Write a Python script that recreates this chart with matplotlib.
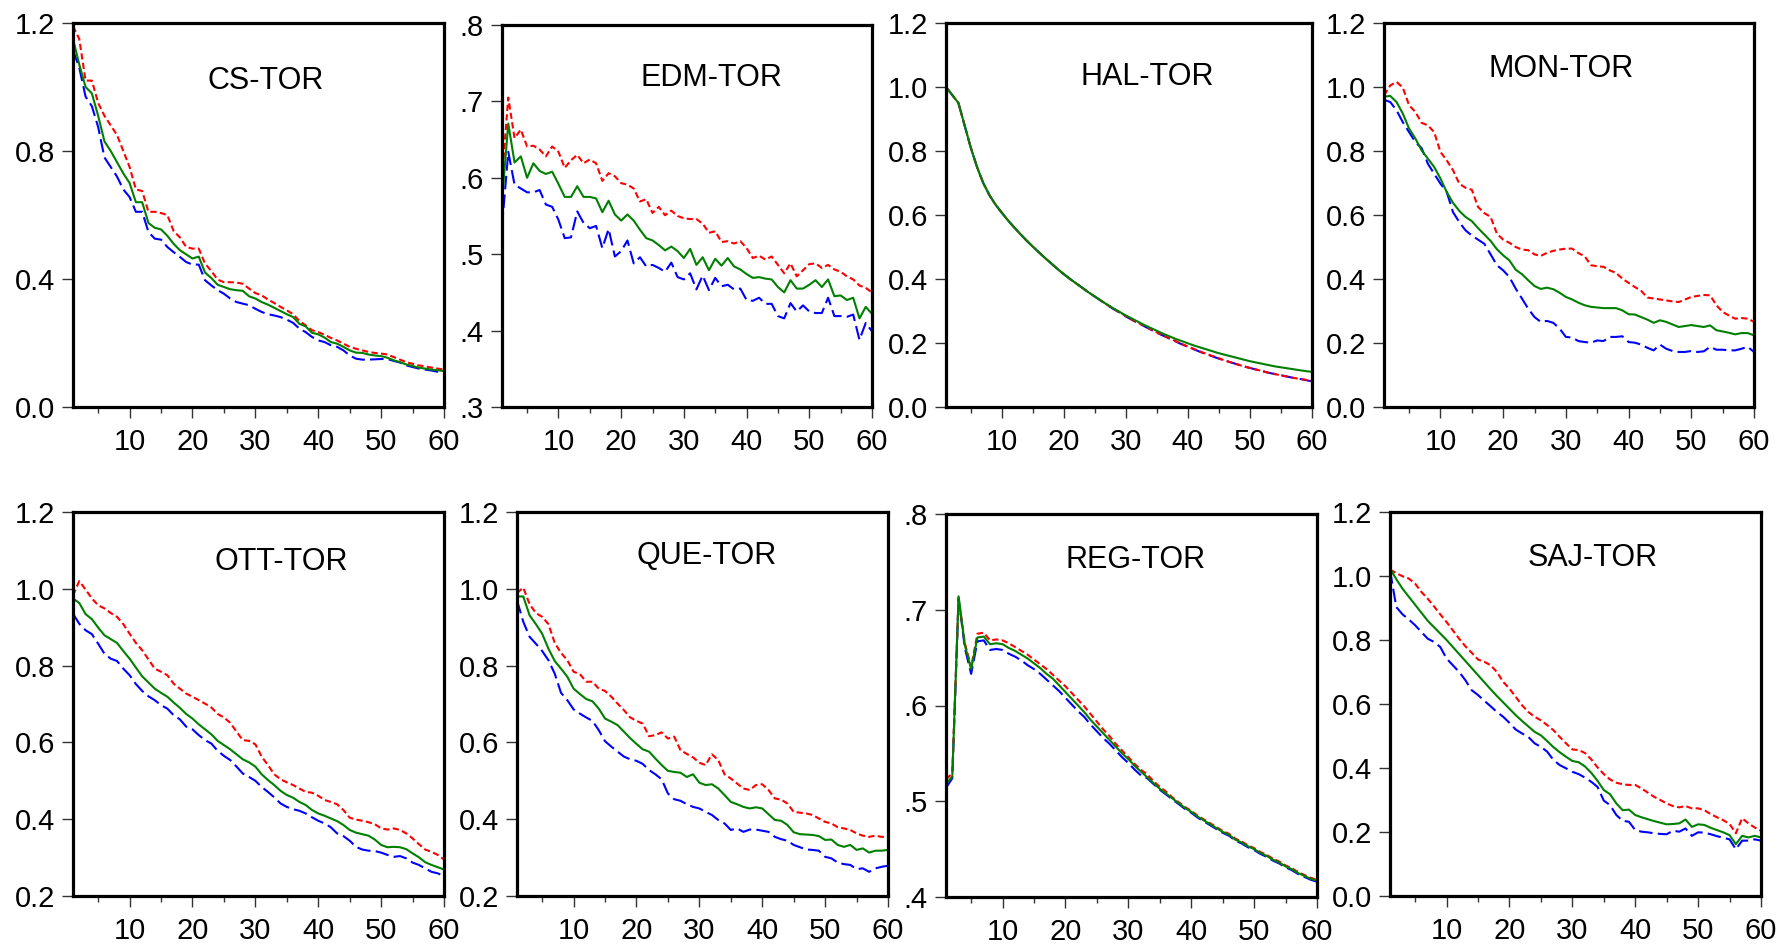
import numpy as np
import matplotlib.pyplot as plt
from matplotlib.ticker import MultipleLocator

plt.rcParams['font.family'] = ['Liberation Sans', 'DejaVu Sans']

horizon = np.arange(1, 61)

# CS-TOR
cs_upper = [1.19, 1.15, 1.02, 1.02, 0.95, 0.91, 0.88, 0.85, 0.80, 0.75,
            0.68, 0.675, 0.61, 0.61, 0.606, 0.60, 0.55, 0.53, 0.50, 0.495,
            0.495, 0.448, 0.425, 0.398, 0.39, 0.39, 0.389, 0.385, 0.37, 0.356,
            0.349, 0.336, 0.325, 0.313, 0.302, 0.29, 0.269, 0.255, 0.24, 0.234,
            0.226, 0.216, 0.208, 0.198, 0.188, 0.182, 0.177, 0.172, 0.169, 0.167,
            0.164, 0.156, 0.148, 0.14, 0.135, 0.13, 0.127, 0.123, 0.12, 0.117]
cs_mid = [1.15, 1.07, 1.00, 0.98, 0.91, 0.83, 0.80, 0.765, 0.73, 0.70,
          0.64, 0.64, 0.575, 0.56, 0.555, 0.535, 0.51, 0.49, 0.477, 0.464,
          0.47, 0.42, 0.403, 0.382, 0.375, 0.368, 0.365, 0.363, 0.346, 0.339,
          0.328, 0.32, 0.31, 0.30, 0.29, 0.281, 0.26, 0.252, 0.232, 0.227,
          0.217, 0.203, 0.198, 0.188, 0.177, 0.17, 0.169, 0.164, 0.161, 0.159,
          0.154, 0.146, 0.14, 0.133, 0.128, 0.123, 0.12, 0.117, 0.115, 0.112]
cs_lower = [1.115, 1.06, 0.97, 0.94, 0.875, 0.78, 0.75, 0.72, 0.68, 0.656,
            0.61, 0.61, 0.547, 0.526, 0.523, 0.50, 0.484, 0.469, 0.453, 0.445,
            0.445, 0.396, 0.38, 0.365, 0.354, 0.339, 0.328, 0.323, 0.318, 0.307,
            0.297, 0.29, 0.286, 0.281, 0.273, 0.263, 0.245, 0.234, 0.219, 0.208,
            0.203, 0.193, 0.188, 0.177, 0.161, 0.151, 0.148, 0.148, 0.149, 0.15,
            0.15, 0.144, 0.139, 0.13, 0.125, 0.12, 0.117, 0.114, 0.11, 0.106]

# EDM-TOR
edm_upper = [0.60, 0.705, 0.652, 0.663, 0.641, 0.642, 0.637, 0.628, 0.641, 0.634,
             0.613, 0.623, 0.63, 0.619, 0.624, 0.619, 0.596, 0.606, 0.602, 0.593,
             0.591, 0.586, 0.569, 0.572, 0.554, 0.562, 0.551, 0.557, 0.55, 0.547,
             0.546, 0.546, 0.54, 0.528, 0.53, 0.516, 0.517, 0.514, 0.517, 0.508,
             0.495, 0.498, 0.493, 0.497, 0.486, 0.475, 0.488, 0.471, 0.479, 0.487,
             0.488, 0.482, 0.486, 0.48, 0.477, 0.471, 0.467, 0.459, 0.456, 0.45]
edm_mid = [0.57, 0.671, 0.62, 0.628, 0.60, 0.619, 0.609, 0.605, 0.608, 0.592,
           0.575, 0.575, 0.589, 0.575, 0.575, 0.573, 0.555, 0.57, 0.552, 0.544,
           0.552, 0.544, 0.532, 0.521, 0.518, 0.512, 0.505, 0.51, 0.504, 0.495,
           0.507, 0.486, 0.496, 0.479, 0.494, 0.485, 0.495, 0.484, 0.48, 0.474,
           0.469, 0.47, 0.468, 0.467, 0.457, 0.45, 0.466, 0.455, 0.455, 0.46,
           0.466, 0.457, 0.467, 0.445, 0.446, 0.44, 0.443, 0.416, 0.431, 0.422]
edm_lower = [0.536, 0.634, 0.591, 0.586, 0.581, 0.581, 0.584, 0.565, 0.562, 0.545,
             0.521, 0.522, 0.556, 0.541, 0.534, 0.537, 0.508, 0.533, 0.497, 0.504,
             0.518, 0.488, 0.496, 0.484, 0.486, 0.482, 0.477, 0.489, 0.47, 0.467,
             0.475, 0.454, 0.472, 0.453, 0.469, 0.458, 0.46, 0.454, 0.455, 0.44,
             0.439, 0.443, 0.435, 0.435, 0.419, 0.416, 0.436, 0.425, 0.433, 0.425,
             0.423, 0.423, 0.443, 0.419, 0.419, 0.418, 0.421, 0.388, 0.41, 0.399]

# HAL-TOR
hal_upper = [1.0, 0.975, 0.95, 0.88, 0.81, 0.75, 0.70, 0.662, 0.632, 0.607,
             0.583, 0.561, 0.54, 0.52, 0.501, 0.483, 0.465, 0.448, 0.431, 0.415,
             0.40, 0.386, 0.372, 0.358, 0.345, 0.332, 0.319, 0.307, 0.296, 0.284,
             0.273, 0.263, 0.253, 0.243, 0.233, 0.224, 0.215, 0.206, 0.197, 0.189,
             0.181, 0.173, 0.166, 0.159, 0.152, 0.145, 0.139, 0.133, 0.127, 0.122,
             0.117, 0.112, 0.107, 0.103, 0.099, 0.095, 0.091, 0.088, 0.085, 0.081]
hal_mid = [1.0, 0.975, 0.95, 0.88, 0.81, 0.75, 0.70, 0.662, 0.632, 0.607,
           0.583, 0.561, 0.54, 0.52, 0.501, 0.483, 0.465, 0.448, 0.431, 0.415,
           0.40, 0.386, 0.372, 0.358, 0.345, 0.332, 0.32, 0.308, 0.297, 0.286,
           0.276, 0.266, 0.256, 0.247, 0.238, 0.229, 0.221, 0.213, 0.206, 0.199,
           0.192, 0.186, 0.18, 0.174, 0.168, 0.163, 0.158, 0.153, 0.148, 0.143,
           0.139, 0.135, 0.131, 0.127, 0.124, 0.121, 0.118, 0.115, 0.112, 0.11]
hal_lower = [1.0, 0.975, 0.95, 0.88, 0.81, 0.75, 0.70, 0.662, 0.632, 0.607,
             0.583, 0.561, 0.54, 0.52, 0.501, 0.483, 0.465, 0.448, 0.431, 0.415,
             0.40, 0.386, 0.372, 0.358, 0.345, 0.332, 0.319, 0.306, 0.295, 0.283,
             0.272, 0.262, 0.252, 0.242, 0.232, 0.223, 0.214, 0.205, 0.196, 0.188,
             0.18, 0.172, 0.165, 0.158, 0.151, 0.145, 0.139, 0.133, 0.127, 0.122,
             0.117, 0.112, 0.107, 0.103, 0.099, 0.095, 0.091, 0.088, 0.084, 0.08]

# MON-TOR
mon_upper = [0.974, 1.005, 1.016, 0.998, 0.943, 0.922, 0.888, 0.88, 0.859, 0.797,
             0.771, 0.74, 0.698, 0.685, 0.679, 0.625, 0.606, 0.594, 0.542, 0.523,
             0.513, 0.50, 0.492, 0.49, 0.477, 0.472, 0.482, 0.488, 0.492, 0.495,
             0.495, 0.481, 0.471, 0.443, 0.44, 0.438, 0.427, 0.419, 0.401, 0.388,
             0.375, 0.363, 0.342, 0.339, 0.336, 0.333, 0.33, 0.328, 0.336, 0.344,
             0.347, 0.35, 0.349, 0.318, 0.297, 0.286, 0.276, 0.278, 0.276, 0.266]
mon_mid = [0.97, 0.972, 0.953, 0.917, 0.87, 0.839, 0.802, 0.776, 0.75, 0.714,
           0.672, 0.638, 0.613, 0.594, 0.581, 0.559, 0.539, 0.519, 0.493, 0.474,
           0.458, 0.429, 0.415, 0.396, 0.378, 0.369, 0.373, 0.368, 0.357, 0.344,
           0.336, 0.326, 0.318, 0.313, 0.311, 0.309, 0.309, 0.309, 0.302, 0.29,
           0.289, 0.281, 0.273, 0.263, 0.271, 0.266, 0.258, 0.25, 0.253, 0.256,
           0.253, 0.25, 0.255, 0.24, 0.236, 0.232, 0.227, 0.231, 0.231, 0.224]
mon_lower = [0.96, 0.953, 0.927, 0.89, 0.859, 0.828, 0.809, 0.76, 0.729, 0.698,
             0.672, 0.609, 0.578, 0.552, 0.536, 0.523, 0.51, 0.477, 0.443, 0.427,
             0.406, 0.37, 0.339, 0.307, 0.281, 0.266, 0.269, 0.263, 0.245, 0.219,
             0.217, 0.206, 0.203, 0.201, 0.208, 0.206, 0.219, 0.219, 0.221, 0.203,
             0.201, 0.195, 0.185, 0.177, 0.195, 0.182, 0.175, 0.172, 0.172, 0.175,
             0.172, 0.174, 0.188, 0.179, 0.179, 0.177, 0.177, 0.182, 0.188, 0.172]

# OTT-TOR
ott_upper = [0.983, 1.02, 0.998, 0.975, 0.957, 0.949, 0.937, 0.927, 0.908, 0.883,
             0.859, 0.84, 0.816, 0.792, 0.784, 0.775, 0.753, 0.74, 0.727, 0.719,
             0.71, 0.701, 0.691, 0.674, 0.665, 0.651, 0.628, 0.606, 0.604, 0.595,
             0.563, 0.541, 0.517, 0.504, 0.496, 0.489, 0.48, 0.471, 0.469, 0.461,
             0.45, 0.445, 0.439, 0.424, 0.404, 0.399, 0.396, 0.392, 0.387, 0.376,
             0.373, 0.376, 0.372, 0.363, 0.35, 0.335, 0.321, 0.315, 0.307, 0.295]
ott_mid = [0.975, 0.963, 0.934, 0.921, 0.899, 0.879, 0.869, 0.859, 0.838, 0.818,
           0.795, 0.772, 0.756, 0.74, 0.729, 0.719, 0.704, 0.69, 0.674, 0.662,
           0.647, 0.634, 0.621, 0.604, 0.593, 0.582, 0.569, 0.556, 0.548, 0.537,
           0.517, 0.502, 0.489, 0.474, 0.463, 0.456, 0.445, 0.437, 0.424, 0.415,
           0.409, 0.402, 0.395, 0.385, 0.372, 0.365, 0.361, 0.357, 0.347, 0.333,
           0.327, 0.328, 0.327, 0.322, 0.311, 0.301, 0.288, 0.281, 0.275, 0.269]
ott_lower = [0.935, 0.909, 0.892, 0.882, 0.857, 0.831, 0.818, 0.812, 0.792, 0.775,
             0.752, 0.734, 0.72, 0.71, 0.697, 0.688, 0.671, 0.66, 0.641, 0.634,
             0.619, 0.606, 0.597, 0.578, 0.565, 0.554, 0.537, 0.519, 0.51, 0.50,
             0.484, 0.471, 0.457, 0.441, 0.432, 0.426, 0.422, 0.415, 0.405, 0.396,
             0.389, 0.379, 0.363, 0.356, 0.344, 0.328, 0.321, 0.318, 0.317, 0.313,
             0.307, 0.302, 0.304, 0.298, 0.287, 0.281, 0.272, 0.263, 0.259, 0.252]

# QUE-TOR
que_upper = [0.989, 1.003, 0.96, 0.937, 0.927, 0.908, 0.859, 0.833, 0.814, 0.784,
             0.778, 0.758, 0.758, 0.74, 0.734, 0.719, 0.701, 0.684, 0.665, 0.656,
             0.649, 0.616, 0.619, 0.626, 0.61, 0.615, 0.58, 0.57, 0.561, 0.547,
             0.541, 0.569, 0.554, 0.517, 0.506, 0.493, 0.48, 0.476, 0.489, 0.491,
             0.476, 0.454, 0.451, 0.441, 0.419, 0.417, 0.415, 0.411, 0.402, 0.393,
             0.389, 0.379, 0.376, 0.372, 0.363, 0.357, 0.354, 0.357, 0.354, 0.354]
que_mid = [0.98, 0.98, 0.931, 0.908, 0.883, 0.844, 0.812, 0.792, 0.771, 0.74,
           0.726, 0.713, 0.707, 0.688, 0.662, 0.654, 0.645, 0.628, 0.611, 0.596,
           0.582, 0.576, 0.558, 0.541, 0.526, 0.523, 0.521, 0.51, 0.517, 0.495,
           0.489, 0.491, 0.48, 0.463, 0.445, 0.439, 0.432, 0.428, 0.431, 0.428,
           0.413, 0.398, 0.396, 0.385, 0.366, 0.361, 0.36, 0.359, 0.356, 0.346,
           0.347, 0.333, 0.328, 0.333, 0.32, 0.324, 0.313, 0.318, 0.318, 0.32]
que_lower = [0.97, 0.914, 0.875, 0.857, 0.838, 0.814, 0.779, 0.729, 0.71, 0.686,
             0.675, 0.665, 0.656, 0.632, 0.603, 0.589, 0.576, 0.563, 0.556, 0.552,
             0.544, 0.528, 0.517, 0.504, 0.467, 0.452, 0.448, 0.439, 0.432, 0.428,
             0.419, 0.411, 0.398, 0.389, 0.372, 0.376, 0.367, 0.373, 0.373, 0.37,
             0.367, 0.354, 0.348, 0.344, 0.333, 0.327, 0.321, 0.32, 0.318, 0.302,
             0.298, 0.287, 0.283, 0.281, 0.27, 0.272, 0.263, 0.272, 0.276, 0.279]

# REG-TOR
reg_upper = [0.523, 0.529, 0.712, 0.665, 0.64, 0.675, 0.676, 0.668, 0.669, 0.668,
             0.665, 0.661, 0.657, 0.653, 0.648, 0.643, 0.638, 0.632, 0.626, 0.62,
             0.613, 0.606, 0.599, 0.591, 0.583, 0.575, 0.568, 0.56, 0.553, 0.546,
             0.539, 0.533, 0.528, 0.521, 0.515, 0.51, 0.504, 0.499, 0.494, 0.49,
             0.485, 0.481, 0.477, 0.473, 0.469, 0.466, 0.461, 0.458, 0.454, 0.451,
             0.447, 0.444, 0.44, 0.437, 0.433, 0.43, 0.426, 0.423, 0.42, 0.418]
reg_mid = [0.518, 0.526, 0.714, 0.663, 0.638, 0.671, 0.672, 0.664, 0.665, 0.664,
           0.66, 0.657, 0.653, 0.649, 0.644, 0.639, 0.633, 0.628, 0.621, 0.614,
           0.607, 0.60, 0.593, 0.585, 0.578, 0.571, 0.564, 0.557, 0.55, 0.544,
           0.537, 0.531, 0.525, 0.519, 0.513, 0.508, 0.503, 0.498, 0.493, 0.489,
           0.484, 0.48, 0.476, 0.472, 0.468, 0.465, 0.46, 0.457, 0.453, 0.45,
           0.446, 0.443, 0.439, 0.436, 0.432, 0.429, 0.425, 0.422, 0.419, 0.417]
reg_lower = [0.514, 0.524, 0.712, 0.66, 0.633, 0.667, 0.668, 0.658, 0.659, 0.658,
             0.654, 0.651, 0.647, 0.642, 0.638, 0.633, 0.627, 0.621, 0.615, 0.608,
             0.601, 0.594, 0.588, 0.58, 0.573, 0.566, 0.56, 0.553, 0.546, 0.54,
             0.533, 0.527, 0.524, 0.518, 0.512, 0.507, 0.502, 0.497, 0.492, 0.488,
             0.483, 0.479, 0.475, 0.471, 0.467, 0.464, 0.459, 0.456, 0.452, 0.449,
             0.445, 0.442, 0.438, 0.435, 0.431, 0.428, 0.424, 0.421, 0.418, 0.416]

# SAJ-TOR
saj_upper = [1.02, 1.009, 0.999, 0.992, 0.976, 0.95, 0.929, 0.905, 0.88, 0.856,
             0.83, 0.804, 0.78, 0.76, 0.739, 0.732, 0.721, 0.70, 0.669, 0.648,
             0.622, 0.596, 0.575, 0.56, 0.549, 0.534, 0.518, 0.497, 0.477, 0.458,
             0.456, 0.447, 0.427, 0.402, 0.381, 0.364, 0.354, 0.349, 0.347, 0.347,
             0.336, 0.323, 0.31, 0.30, 0.289, 0.281, 0.277, 0.281, 0.274, 0.274,
             0.268, 0.256, 0.246, 0.237, 0.225, 0.196, 0.243, 0.227, 0.214, 0.204]
saj_mid = [1.023, 0.99, 0.96, 0.935, 0.91, 0.885, 0.86, 0.84, 0.82, 0.80,
           0.778, 0.756, 0.734, 0.712, 0.69, 0.668, 0.646, 0.625, 0.605, 0.585,
           0.565, 0.547, 0.53, 0.513, 0.502, 0.484, 0.465, 0.449, 0.435, 0.422,
           0.418, 0.405, 0.385, 0.36, 0.331, 0.318, 0.289, 0.268, 0.27, 0.253,
           0.246, 0.24, 0.234, 0.229, 0.224, 0.225, 0.227, 0.239, 0.216, 0.224,
           0.222, 0.213, 0.206, 0.199, 0.19, 0.162, 0.188, 0.183, 0.188, 0.183]
saj_lower = [1.018, 0.903, 0.88, 0.864, 0.846, 0.825, 0.804, 0.794, 0.778, 0.742,
             0.721, 0.70, 0.674, 0.643, 0.628, 0.61, 0.593, 0.575, 0.56, 0.541,
             0.52, 0.508, 0.497, 0.477, 0.466, 0.451, 0.425, 0.409, 0.399, 0.388,
             0.381, 0.37, 0.357, 0.341, 0.298, 0.284, 0.253, 0.235, 0.232, 0.206,
             0.201, 0.199, 0.196, 0.194, 0.193, 0.204, 0.201, 0.211, 0.188, 0.199,
             0.198, 0.193, 0.187, 0.182, 0.177, 0.146, 0.173, 0.173, 0.177, 0.173]

titles = ["CS-TOR", "EDM-TOR", "HAL-TOR", "MON-TOR",
          "OTT-TOR", "QUE-TOR", "REG-TOR", "SAJ-TOR"]
uppers = [cs_upper, edm_upper, hal_upper, mon_upper, ott_upper, que_upper, reg_upper, saj_upper]
mids = [cs_mid, edm_mid, hal_mid, mon_mid, ott_mid, que_mid, reg_mid, saj_mid]
lowers = [cs_lower, edm_lower, hal_lower, mon_lower, ott_lower, que_lower, reg_lower, saj_lower]

yticks = [[0.0, 0.4, 0.8, 1.2],
          [0.3, 0.4, 0.5, 0.6, 0.7, 0.8],
          [0.0, 0.2, 0.4, 0.6, 0.8, 1.0, 1.2],
          [0.0, 0.2, 0.4, 0.6, 0.8, 1.0, 1.2],
          [0.2, 0.4, 0.6, 0.8, 1.0, 1.2],
          [0.2, 0.4, 0.6, 0.8, 1.0, 1.2],
          [0.4, 0.5, 0.6, 0.7, 0.8],
          [0.0, 0.2, 0.4, 0.6, 0.8, 1.0, 1.2]]
ylabels = [["0.0", "0.4", "0.8", "1.2"],
           [".3", ".4", ".5", ".6", ".7", ".8"],
           ["0.0", "0.2", "0.4", "0.6", "0.8", "1.0", "1.2"],
           ["0.0", "0.2", "0.4", "0.6", "0.8", "1.0", "1.2"],
           ["0.2", "0.4", "0.6", "0.8", "1.0", "1.2"],
           ["0.2", "0.4", "0.6", "0.8", "1.0", "1.2"],
           [".4", ".5", ".6", ".7", ".8"],
           ["0.0", "0.2", "0.4", "0.6", "0.8", "1.0", "1.2"]]

W, H = 1787, 949
# panel boxes in pixels: left, top, width, height
boxes = [(73, 23, 371, 384), (502, 25, 370, 382), (946, 23, 366, 384), (1384, 23, 370, 384),
         (73, 512, 371, 384), (517, 512, 371, 384), (946, 514, 371, 383), (1390, 512, 371, 384)]
title_pos = [(0.52, 0.85), (0.565, 0.86), (0.55, 0.86), (0.48, 0.88),
             (0.56, 0.87), (0.51, 0.885), (0.51, 0.88), (0.545, 0.88)]

fig = plt.figure(figsize=(W / 100, H / 100), dpi=100)

for i in range(8):
    l, t, w, h = boxes[i]
    ax = fig.add_axes([l / W, (H - t - h) / H, w / W, h / H])

    ax.plot(horizon, lowers[i], color='#0000FF', lw=1.5, dashes=(6.5, 2.5))
    ax.plot(horizon, uppers[i], color='#FF0000', lw=1.5, dashes=(3, 1.6))
    ax.plot(horizon, mids[i], color='#008000', lw=1.5)

    ax.set_xlim(1, 60)
    ax.set_ylim(yticks[i][0], yticks[i][-1])
    ax.set_xticks([10, 20, 30, 40, 50, 60])
    ax.xaxis.set_minor_locator(MultipleLocator(5))
    ax.set_yticks(yticks[i])
    ax.set_yticklabels(ylabels[i])

    for side in ['top', 'bottom', 'left', 'right']:
        ax.spines[side].set_linewidth(2.3)
    ax.tick_params(axis='x', which='major', length=8, width=1, pad=7, labelsize=21, color='#333333')
    ax.tick_params(axis='x', which='minor', length=4.5, width=1, color='#333333')
    ax.tick_params(axis='y', which='major', length=8, width=1, pad=5, labelsize=21, color='#333333')

    ax.text(title_pos[i][0], title_pos[i][1], titles[i], transform=ax.transAxes,
            ha='center', va='center', fontsize=22)

fig.savefig('out.png', dpi=100)
